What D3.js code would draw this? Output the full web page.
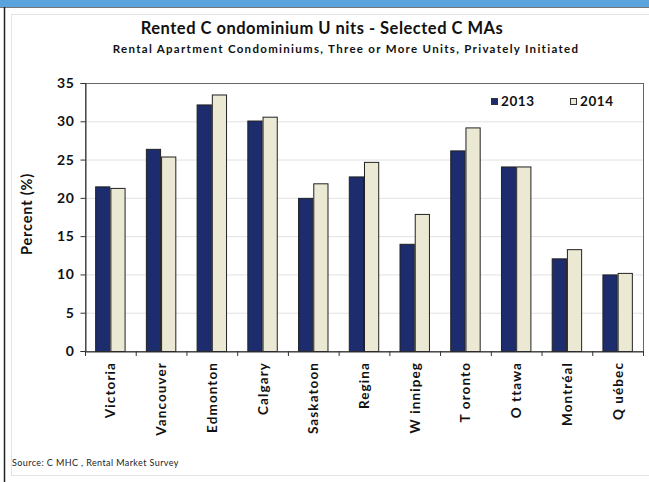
<!DOCTYPE html>
<html><head><meta charset="utf-8">
<script src="https://cdn.jsdelivr.net/npm/d3@7"></script>
<style>body{margin:0;background:#fff}svg{display:block}text{font-family:Lato,"Liberation Sans",sans-serif}</style>
</head><body><svg id="c" width="649" height="482"></svg>
<script>
const categories = ["Victoria","Vancouver","Edmonton","Calgary","Saskatoon","Regina","W innipeg","T oronto","O ttawa","Montréal","Q uébec"];
const series = ["2013","2014"];
const values2013 = [21.5,26.4,32.2,30.1,20.0,22.8,14.0,26.2,24.1,12.1,10.0];
const values2014 = [21.3,25.4,33.5,30.6,21.9,24.7,17.9,29.2,24.1,13.3,10.2];
const yTicks = [0,5,10,15,20,25,30,35];
const colors = {"2013":"#1c2c6c","2014":"#ebe8d4"};

const svg = d3.select("#c");
// frame
svg.append("rect").attr("x",0).attr("y",0).attr("width",649).attr("height",7).attr("fill","#5ba3dc");
svg.append("line").attr("x1",0).attr("x2",649).attr("y1",7.5).attr("y2",7.5).attr("stroke","#777");
svg.append("line").attr("x1",4.5).attr("x2",4.5).attr("y1",7).attr("y2",482).attr("stroke","#222").attr("stroke-width",1.5);
svg.append("rect").attr("x",11.5).attr("y",14.5).attr("width",660).attr("height",461).attr("fill","none").attr("stroke","#e4e4e4");

const m = {l:85,r:643,t:83,b:351};
const x0 = d3.scaleBand().domain(categories).range([m.l,m.r]);
const bw = x0.bandwidth();
const x1 = d3.scaleBand().domain(series).range([bw*0.2, bw*0.8]);
const y = d3.scaleLinear().domain([0,35]).range([m.b,m.t]);

// gridlines
svg.append("g").selectAll("line").data(yTicks.slice(1)).join("line")
  .attr("x1",m.l).attr("x2",m.r).attr("y1",d=>y(d)+0.5).attr("y2",d=>y(d)+0.5)
  .attr("stroke","#e2e2e2");
// plot border
svg.append("rect").attr("x",m.l+0.5).attr("y",m.t+0.5).attr("width",m.r-m.l).attr("height",m.b-m.t)
  .attr("fill","none").attr("stroke","#666");

// bars
const data = categories.map((c,i)=>({c, vals:[{s:"2013",v:values2013[i]},{s:"2014",v:values2014[i]}]}));
const g = svg.append("g").selectAll("g").data(data).join("g").attr("transform",d=>`translate(${x0(d.c)},0)`);
g.selectAll("rect").data(d=>d.vals).join("rect")
  .attr("x",d=>x1(d.s)+0.5).attr("width",x1.bandwidth()-1)
  .attr("y",d=>y(d.v)+0.5).attr("height",d=>y(0)-y(d.v))
  .attr("fill",d=>colors[d.s]).attr("stroke","#222").attr("stroke-width",1);

// y axis
const ya = svg.append("g").attr("transform",`translate(${m.l+0.5},0)`)
  .call(d3.axisLeft(y).tickValues(yTicks).tickSize(5).tickPadding(6));
ya.select(".domain").attr("stroke","#333");
ya.selectAll("line").attr("stroke","#333");
ya.selectAll("text").attr("font-size",14).attr("font-weight","bold").attr("fill","#111")
  .attr("font-family","Lato").attr("letter-spacing",0.6);

// x axis
const xa = svg.append("g").attr("transform",`translate(0,${m.b+0.5})`)
  .call(d3.axisBottom(x0).tickSize(0).tickFormat(""));
xa.select(".domain").attr("stroke","#333");
svg.append("g").selectAll("line").data(d3.range(categories.length+1)).join("line")
  .attr("x1",i=>m.l+i*bw+0.5).attr("x2",i=>m.l+i*bw+0.5).attr("y1",m.b).attr("y2",m.b+5).attr("stroke","#333");
svg.append("g").selectAll("text").data(categories).join("text")
  .attr("transform",d=>`translate(${x0(d)+bw/2+5},${m.b+11}) rotate(-90)`)
  .attr("text-anchor","end").attr("font-size",13.5).attr("font-weight","bold").attr("fill","#111")
  .attr("letter-spacing",1.1)
  .text(d=>d);

// y label
svg.append("text").attr("transform","translate(32,214) rotate(-90)").attr("text-anchor","middle")
  .attr("font-size",14.5).attr("font-weight","bold").attr("fill","#111").attr("letter-spacing",0.8).text("Percent (%)");

// titles
svg.append("text").attr("x",322).attr("y",34).attr("text-anchor","middle").attr("font-size",16.5)
  .attr("font-weight","bold").attr("fill","#111").attr("letter-spacing",0.5).text("Rented C ondominium U nits - Selected C MAs");
svg.append("text").attr("x",346).attr("y",53).attr("text-anchor","middle").attr("font-size",11.5)
  .attr("font-weight","bold").attr("fill","#111").attr("letter-spacing",1.3)
  .text("Rental Apartment Condominiums, Three or More Units, Privately Initiated");

// legend
const lg = svg.append("g").selectAll("g").data(series).join("g")
  .attr("transform",(d,i)=>`translate(${491+i*79},98)`);
lg.append("rect").attr("x",0.5).attr("y",0.5).attr("width",6).attr("height",6)
  .attr("fill",d=>colors[d]).attr("stroke","#333");
lg.append("text").attr("x",10).attr("y",8).attr("font-size",13.5).attr("font-weight","bold").attr("fill","#111").attr("letter-spacing",0.6).text(d=>d);

// source
svg.append("text").attr("x",12).attr("y",466).attr("font-size",9).attr("fill","#222").attr("letter-spacing",0.4)
  .attr("font-family","Liberation Sans Narrow, Liberation Sans")
  .text("Source: C MHC , Rental Market Survey");
</script></body></html>
